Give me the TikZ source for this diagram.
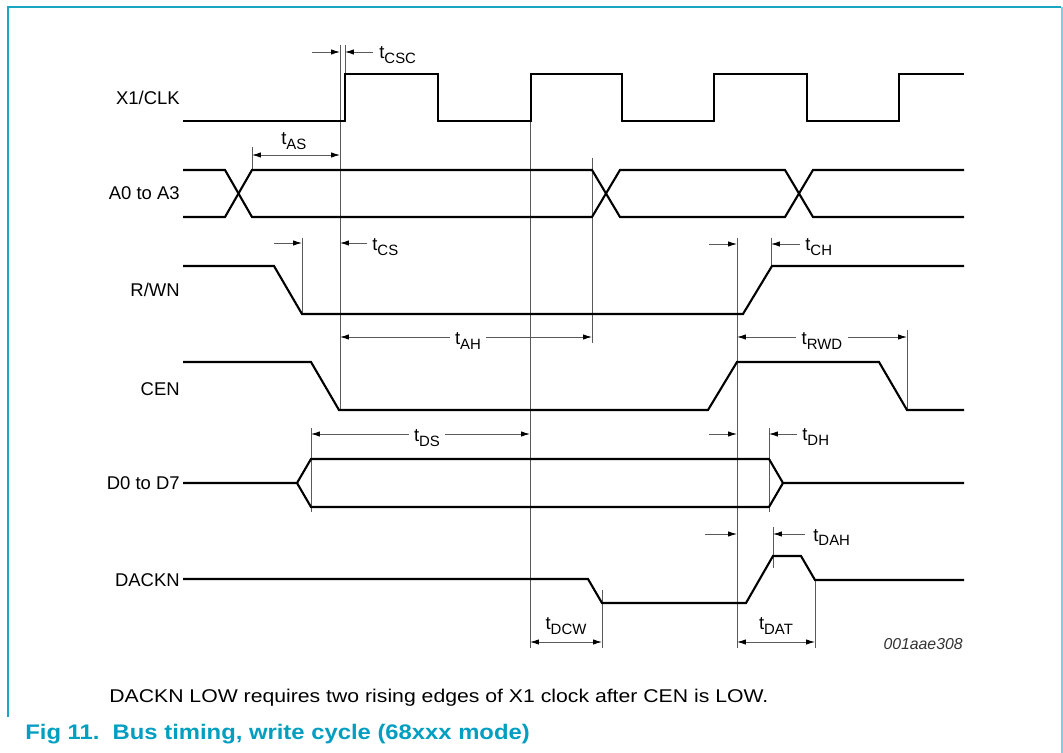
\documentclass[tikz,border=0pt]{standalone}
\usepackage{fontspec}
\setmainfont{Liberation Sans}
\usetikzlibrary{arrows.meta}
\definecolor{FigTeal}{HTML}{009EC0}
\definecolor{FrameTeal}{HTML}{1AA6C2}
\definecolor{EdgeCyan}{HTML}{7CCFDC}
\definecolor{RefGray}{HTML}{5A5A5A}
\newcommand{\tm}[1]{t\raisebox{-0.45ex}{\fontsize{8.5}{9}\selectfont #1}}

\begin{document}
\begin{tikzpicture}[x=0.02cm,y=-0.02cm,
  sig/.style={line width=1.2pt,line join=miter},
  refl/.style={RefGray,line width=0.5pt},
  dim/.style={RefGray,line width=0.5pt,
    {Latex[length=5pt,width=3pt,black]}-{Latex[length=5pt,width=3pt,black]}},
  ptr/.style={RefGray,line width=0.5pt,-{Latex[length=5pt,width=3pt,black]}},
  lbl/.style={font=\fontsize{10.5}{12}\selectfont,anchor=east,inner sep=0pt},
  tlab/.style={font=\fontsize{10.5}{12}\selectfont,inner sep=0pt}]
  \useasboundingbox (0,0) rectangle (1063,753);

  % --- frame ---
  \draw[FrameTeal,line width=0.9pt] (8,717) -- (8,7) -- (1061,7);
  \draw[EdgeCyan,line width=1.2pt] (1062,7) -- (1062,753);

  % --- signal names ---
  \node[lbl] (nclk) at (180,98)  {X1/CLK};
  \node[lbl] (nadr) at (180,193) {A0 to A3};
  \node[lbl] (nrw)  at (180,290) {R/WN};
  \node[lbl] (ncen) at (180,389) {CEN};
  \node[lbl] (ndat) at (180,483) {D0 to D7};
  \node[lbl] (nack) at (180,580) {DACKN};

  % --- reference lines ---
  \draw[refl] (340,45) -- (340,410);
  \draw[refl] (345,45) -- (345,74);
  \draw[refl] (252,147) -- (252,170);
  \draw[refl] (592,158) -- (592,343);
  \draw[refl] (302,238) -- (302,314);
  \draw[refl] (530,121) -- (530,648);
  \draw[refl] (737,238) -- (737,648);
  \draw[refl] (771,238) -- (771,266);
  \draw[refl] (907,330) -- (907,410);
  \draw[refl] (311,428) -- (311,512);
  \draw[refl] (769,428) -- (769,512);
  \draw[refl] (602,590) -- (602,648);
  \draw[refl] (773,527) -- (773,568);
  \draw[refl] (815,580) -- (815,648);

  % --- waveforms ---
  \draw[sig] (183,121) -- (345,121) -- (345,74) -- (438,74) -- (438,121)
    -- (531,121) -- (531,74) -- (622,74) -- (622,121) -- (714,121)
    -- (714,74) -- (807,74) -- (807,121) -- (899,121) -- (899,74) -- (964,74);
  \draw[sig] (183,170) -- (225,170) -- (252,217) -- (592,217) -- (620,170)
    -- (785,170) -- (813,217) -- (964,217);
  \draw[sig] (183,217) -- (225,217) -- (252,170) -- (592,170) -- (620,217)
    -- (785,217) -- (813,170) -- (964,170);
  \draw[sig] (183,266) -- (274,266) -- (302,314) -- (743,314) -- (772,266)
    -- (964,266);
  \draw[sig] (183,362) -- (311,362) -- (339,410) -- (708,410) -- (737,362)
    -- (879,362) -- (907,410) -- (964,410);
  \draw[sig] (183,483) -- (297,483) -- (311,459) -- (769,459) -- (783,483)
    -- (964,483);
  \draw[sig] (297,483) -- (311,507) -- (769,507) -- (783,483);
  \draw[sig] (183,579) -- (588,579) -- (602,603) -- (746,603) -- (773,556)
    -- (801,556) -- (815,580) -- (964,580);

  % --- timing parameters ---
  \draw[ptr] (312,52) -- (340,52);
  \draw[ptr] (373,52) -- (345,52);
  \node[tlab,anchor=base west] (tcsc) at (379,59) {\tm{CSC}};
  \draw[dim] (252,155) -- (340,155);
  \node[tlab,anchor=base west] (tas) at (281,145) {\tm{AS}};
  \draw[ptr] (274,243) -- (302,243);
  \draw[ptr] (367,243) -- (340,243);
  \node[tlab,anchor=base west] (tcs) at (372,251) {\tm{CS}};
  \draw[dim] (340,337) -- (592,337);
  \node[tlab,anchor=base,fill=white,inner xsep=3pt] (tah) at (468,345) {\tm{AH}};
  \draw[ptr] (709,244) -- (737,244);
  \draw[ptr] (800,244) -- (771,244);
  \node[tlab,anchor=base west] (tch) at (805,251) {\tm{CH}};
  \draw[dim] (737,337) -- (907,337);
  \node[tlab,anchor=base,fill=white,inner xsep=3pt] (trwd) at (822,345) {\tm{RWD}};
  \draw[dim] (311,434) -- (530,434);
  \node[tlab,anchor=base,fill=white,inner xsep=3pt] (tds) at (427,442) {\tm{DS}};
  \draw[ptr] (709,434) -- (737,434);
  \draw[ptr] (797,434) -- (769,434);
  \node[tlab,anchor=base west] (tdh) at (802,441) {\tm{DH}};
  \draw[ptr] (705,534) -- (737,534);
  \draw[ptr] (805,534) -- (773,534);
  \node[tlab,anchor=base west] (tdah) at (813,541) {\tm{DAH}};
  \draw[dim] (530,642) -- (602,642);
  \node[tlab,anchor=base] (tdcw) at (566,630) {\tm{DCW}};
  \draw[dim] (737,642) -- (815,642);
  \node[tlab,anchor=base] (tdat) at (776,630) {\tm{DAT}};

  % --- figure id, note and caption ---
  \node[anchor=base east,inner sep=0pt,font=\fontsize{9}{10}\selectfont\itshape,
    black!80] (figid) at (963,649) {001aae308};
  \node[anchor=base west,inner sep=0pt,font=\fontsize{10.5}{12}\selectfont]
    (note) at (109,703)
    {\scalebox{1.15}[1]{DACKN LOW requires two rising edges of X1 clock after CEN is LOW.}};
  \node[anchor=base west,inner sep=0pt,font=\fontsize{12}{14}\selectfont\bfseries,
    FigTeal] (cap) at (25,740)
    {\scalebox{1.13}[1]{Fig 11.\ \ Bus timing, write cycle (68xxx mode)}};
\end{tikzpicture}
\end{document}
